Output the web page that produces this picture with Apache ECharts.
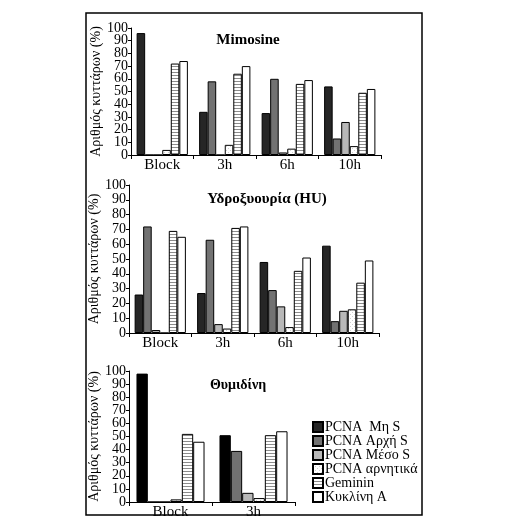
<!DOCTYPE html>
<html><head><meta charset="utf-8">
<script src="https://cdn.jsdelivr.net/npm/echarts@6/dist/echarts.min.js"></script>
<style>html,body{margin:0;padding:0;background:#fff}#c{width:512px;height:521px}</style>
</head><body><div id="c"></div>
<script>
// ---- data ----
const seriesNames = ['PCNA  Μη S', 'PCNA Αρχή S', 'PCNA Μέσο S', 'PCNA αρνητικά', 'Geminin', 'Κυκλίνη A'];
const yTicksEven = [0, 20, 40, 60, 80, 100];
const yTicksOdd  = [10, 30, 50, 70, 90];

const mimCats = ['Block', '3h', '6h', '10h'];
const mimMhS  = [96, 34, 33, 54];
const mimArxi = [0, 58, 60, 13];
const mimMeso = [0, 0, 2, 26];
const mimNeg  = [4, 8, 5, 7];
const mimGem  = [72, 64, 56, 49];
const mimCyc  = [74, 70, 59, 52];

const huCats = ['Block', '3h', '6h', '10h'];
const huMhS  = [26, 27, 48, 59];
const huArxi = [72, 63, 29, 8];
const huMeso = [2, 6, 18, 15];
const huNeg  = [0, 3, 4, 16];
const huGem  = [69, 71, 42, 34];
const huCyc  = [65, 72, 51, 49];

const thyCats = ['Block', '3h'];
const thyMhS  = [98, 51];
const thyArxi = [0, 39];
const thyMeso = [0, 7];
const thyNeg  = [2, 3];
const thyGem  = [52, 51];
const thyCyc  = [46, 54];

const titles = ['Mimosine', 'Υδροξυουρία (HU)', 'Θυμιδίνη'];
const yName = 'Αριθμός κυττάρων (%)';

// ---- patterns ----
function stripe() {
  const c = document.createElement('canvas'); c.width = 4; c.height = 3;
  const g = c.getContext('2d');
  g.fillStyle = '#fff'; g.fillRect(0,0,4,3);
  g.fillStyle = '#8c8c8c'; g.fillRect(0,0,4,1);
  return {image: c, repeat: 'repeat'};
}
function dots() {
  const c = document.createElement('canvas'); c.width = 4; c.height = 4;
  const g = c.getContext('2d');
  g.fillStyle = '#fff'; g.fillRect(0,0,4,4);
  g.fillStyle = '#d0d0d0'; g.fillRect(0,0,1,1); g.fillRect(2,2,1,1);
  return {image: c, repeat: 'repeat'};
}
const fills = ['#262626', '#727272', '#b8b8b8', dots(), stripe(), '#ffffff'];

const FONT = '"Liberation Serif", "DejaVu Serif", serif';
const grids = [
  {left: 131, top: 28, width: 250, height: 127},
  {left: 129, top: 185, width: 250, height: 148},
  {left: 129, top: 371, width: 166, height: 131}
];
const catsList = [mimCats, huCats, thyCats];
const dataList = [
  [mimMhS, mimArxi, mimMeso, mimNeg, mimGem, mimCyc],
  [huMhS, huArxi, huMeso, huNeg, huGem, huCyc],
  [thyMhS, thyArxi, thyMeso, thyNeg, thyGem, thyCyc]
];

const xAxis = catsList.map((cats, i) => ({
  type: 'category', gridIndex: i, data: cats,
  axisLine: {lineStyle: {color: '#000', width: 1}},
  axisTick: {show: true, length: 4, lineStyle: {color: '#000'}},
  axisLabel: {color: '#000', fontFamily: FONT, fontSize: 15, margin: 3}
}));
const labelBase = {color: '#000', fontFamily: FONT, fontSize: 14, margin: 3, showMinLabel: true, showMaxLabel: true};
const yMain = grids.map((g, i) => ({
  type: 'value', gridIndex: i, min: 0, max: 100, interval: 10,
  name: yName, nameLocation: 'middle', nameRotate: 90, nameGap: 26,
  nameTextStyle: {color: '#000', fontFamily: FONT, fontSize: 14},
  axisLine: {show: true, lineStyle: {color: '#000', width: 1}},
  axisTick: {show: true, length: 3, lineStyle: {color: '#000'}},
  splitLine: {show: false},
  axisLabel: Object.assign({}, labelBase, {formatter: v => yTicksEven.includes(v) ? String(v) : ''})
}));
const yOdd = grids.map((g, i) => ({
  type: 'value', gridIndex: i, min: 0, max: 100, interval: 10, position: 'left',
  axisLine: {show: false}, axisTick: {show: false}, splitLine: {show: false},
  axisLabel: Object.assign({}, labelBase, {formatter: v => yTicksOdd.includes(v) ? String(v) : ''})
}));

const series = [];
dataList.forEach((arrs, gi) => {
  arrs.forEach((arr, si) => {
    series.push({
      type: 'bar', name: seriesNames[si], xAxisIndex: gi, yAxisIndex: gi,
      data: arr, barGap: '0%', barCategoryGap: '18%',
      itemStyle: {color: (gi === 2 && si === 0) ? '#000' : fills[si], borderColor: '#000', borderWidth: 1},
      emphasis: {disabled: true}, animation: false
    });
  });
});

const titlePos = [[248, 40], [267, 199], [238, 385]];
const graphic = [
  {type: 'rect', shape: {x: 86, y: 13, width: 336, height: 502},
   style: {fill: 'none', stroke: '#000', lineWidth: 1.5}, silent: true}
].concat(titles.map((t, i) => ({
  type: 'text', x: titlePos[i][0], y: titlePos[i][1],
  style: {text: t, font: 'bold ' + (i === 2 ? 14 : 15) + 'px ' + FONT, fill: '#000', align: 'center', verticalAlign: 'middle'}
})));

const chart = echarts.init(document.getElementById('c'), null, {renderer: 'canvas'});
chart.setOption({
  animation: false,
  grid: grids,
  xAxis: xAxis,
  yAxis: yMain.concat(yOdd),
  series: series,
  legend: {
    data: seriesNames, orient: 'vertical', left: 307, top: 415,
    itemWidth: 10, itemHeight: 10, itemGap: 0, icon: 'rect',
    textStyle: {color: '#000', fontFamily: FONT, fontSize: 14, lineHeight: 14, padding: [0,0,0,-3]},
    selectedMode: false
  },
  graphic: graphic
});
</script></body></html>
